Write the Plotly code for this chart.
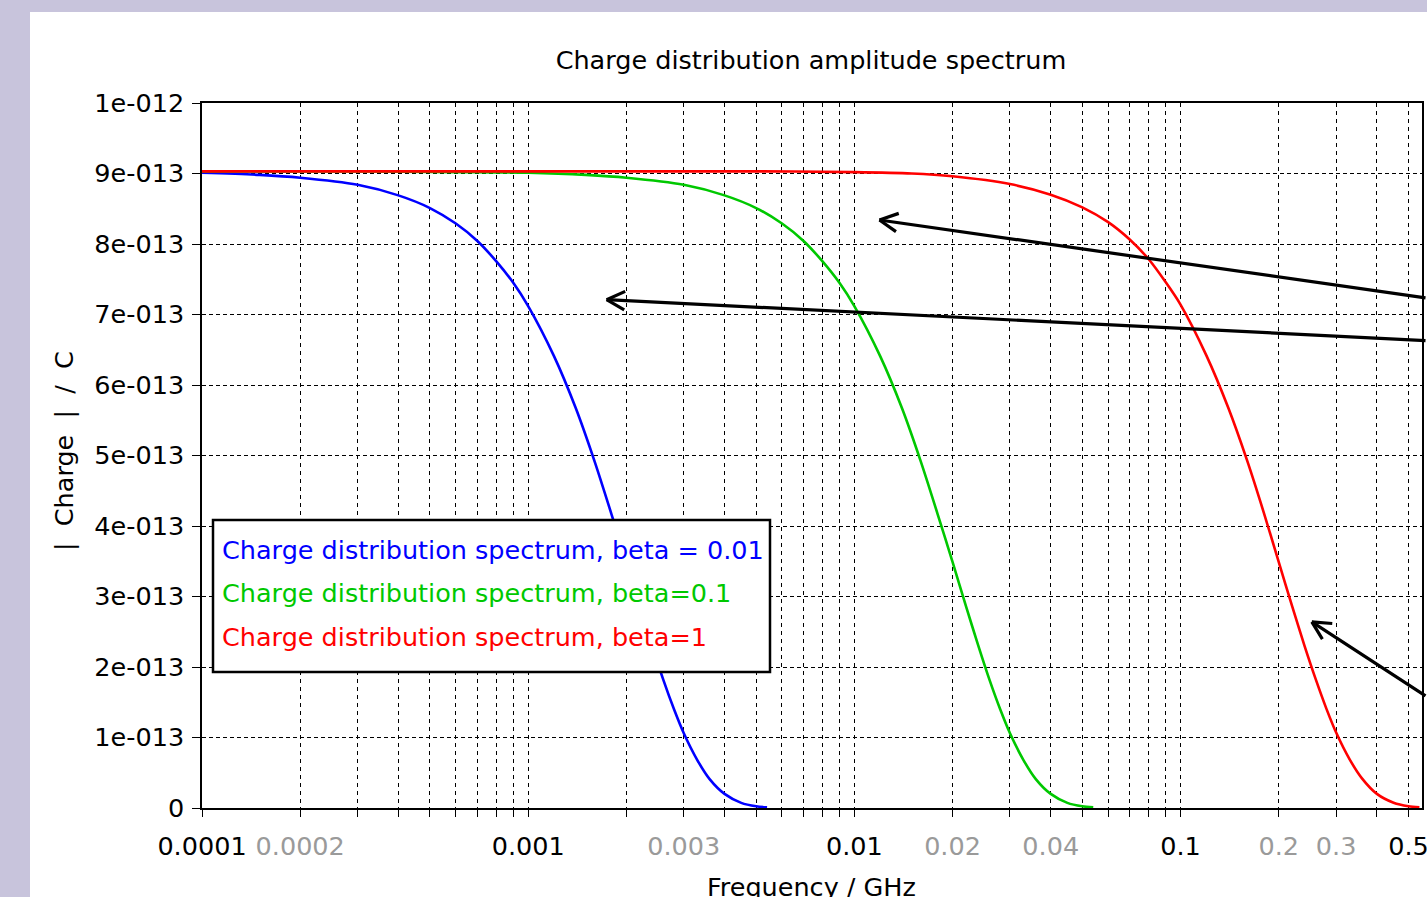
import math
import plotly.graph_objects as go

# ---------------- data ----------------
blue_freq = [0.0001, 0.00015, 0.0002, 0.0003, 0.0004, 0.0005, 0.0006, 0.0007, 0.0008,
             0.0009, 0.001, 0.0012, 0.0014, 0.0016, 0.0018, 0.002, 0.0022, 0.0024,
             0.0026, 0.0028, 0.003, 0.0033, 0.0036, 0.004, 0.0045, 0.005, 0.0054]
blue_charge = [9.01e-13, 8.98e-13, 8.94e-13, 8.84e-13, 8.69e-13, 8.51e-13, 8.29e-13, 8.04e-13,
               7.75e-13, 7.45e-13, 7.12e-13, 6.41e-13, 5.67e-13, 4.91e-13, 4.17e-13, 3.49e-13,
               2.86e-13, 2.30e-13, 1.81e-13, 1.40e-13, 1.06e-13, 0.68e-13, 0.41e-13, 0.20e-13,
               0.073e-13, 0.024e-13, 0.009e-13]

green_freq = [0.0001, 0.0003, 0.0006, 0.001, 0.0015, 0.002, 0.003, 0.004, 0.005, 0.006,
              0.007, 0.008, 0.009, 0.01, 0.012, 0.014, 0.016, 0.018, 0.02, 0.022, 0.024,
              0.026, 0.028, 0.03, 0.033, 0.036, 0.04, 0.045, 0.05, 0.054]
green_charge = [9.03e-13, 9.03e-13, 9.02e-13, 9.01e-13, 8.98e-13, 8.94e-13, 8.84e-13, 8.69e-13,
                8.51e-13, 8.29e-13, 8.04e-13, 7.75e-13, 7.45e-13, 7.12e-13, 6.41e-13, 5.67e-13,
                4.91e-13, 4.17e-13, 3.49e-13, 2.86e-13, 2.30e-13, 1.81e-13, 1.40e-13, 1.06e-13,
                0.68e-13, 0.41e-13, 0.20e-13, 0.073e-13, 0.024e-13, 0.009e-13]

red_freq = [0.0001, 0.001, 0.005, 0.01, 0.015, 0.02, 0.03, 0.04, 0.05, 0.06, 0.07, 0.08,
            0.09, 0.1, 0.12, 0.14, 0.16, 0.18, 0.2, 0.22, 0.24, 0.26, 0.28, 0.3, 0.33,
            0.36, 0.4, 0.45, 0.5, 0.54]
red_charge = [9.03e-13, 9.03e-13, 9.03e-13, 9.02e-13, 9.00e-13, 8.96e-13, 8.85e-13, 8.70e-13,
              8.52e-13, 8.31e-13, 8.06e-13, 7.78e-13, 7.46e-13, 7.14e-13, 6.42e-13, 5.68e-13,
              4.93e-13, 4.19e-13, 3.49e-13, 2.86e-13, 2.30e-13, 1.82e-13, 1.41e-13, 1.07e-13,
              0.69e-13, 0.42e-13, 0.20e-13, 0.075e-13, 0.025e-13, 0.01e-13]

series_names = ["Charge distribution spectrum, beta = 0.01",
                "Charge distribution spectrum, beta=0.1",
                "Charge distribution spectrum, beta=1"]
series_colors = ["#0000ff", "#00c800", "#ff0000"]

# x tick labels: value, text, major(black) / minor(gray)
x_label_vals = [0.0001, 0.0002, 0.001, 0.003, 0.01, 0.02, 0.04, 0.1, 0.2, 0.3, 0.5]
x_label_text = ["0.0001", "0.0002", "0.001", "0.003", "0.01", "0.02", "0.04", "0.1", "0.2", "0.3", "0.5"]
x_label_major = [True, False, True, False, True, False, False, True, False, False, True]

y_tick_vals = [0, 1e-13, 2e-13, 3e-13, 4e-13, 5e-13, 6e-13, 7e-13, 8e-13, 9e-13, 1e-12]
y_tick_text = ["0", "1e-013", "2e-013", "3e-013", "4e-013", "5e-013", "6e-013",
               "7e-013", "8e-013", "9e-013", "1e-012"]

# annotation arrows: head at (freq, charge), tail offset in px
arrow_head_freq = [0.01194, 0.00174, 0.2527]
arrow_head_charge = [8.34e-13, 7.21e-13, 2.64e-13]
arrow_tail_dx = [555, 828, 122]
arrow_tail_dy = [78, 41, 75]

X_MAX = 0.55
FONT = "DejaVu Sans"
FS = 25.5

# ---------------- layout geometry (pixels) ----------------
W, H = 1427, 897
L, R, T, B = 202, 5, 103, 89
PW, PH = W - L - R, H - T - B


def px2paper_x(px):
    return (px - L) / PW


def px2paper_y(py):
    return (H - B - py) / PH


fig = go.Figure()
for fx, cy, col, name in [(blue_freq, blue_charge, series_colors[0], series_names[0]),
                          (green_freq, green_charge, series_colors[1], series_names[1]),
                          (red_freq, red_charge, series_colors[2], series_names[2])]:
    fig.add_trace(go.Scatter(x=fx, y=cy, mode="lines", name=name,
                             line=dict(color=col, width=2.6, shape="spline", smoothing=0.8),
                             showlegend=False))

# x tick positions: every 1..9 x 10^e
tickvals, ticktext = [], []
for e in range(-4, 0):
    for k in range(1, 10):
        v = k * 10 ** e
        if v > X_MAX + 1e-12:
            continue
        tickvals.append(v)
        txt = ""
        for lv, lt, lm in zip(x_label_vals, x_label_text, x_label_major):
            if abs(lv - v) < 1e-12:
                txt = lt if lm else "<span style='color:#9a9a9a'>%s</span>" % lt
        ticktext.append(txt)

axis_common = dict(showline=True, linecolor="black", linewidth=1.5, mirror=True,
                   showgrid=True, gridcolor="black", gridwidth=1,
                   ticks="outside", tickcolor="black", tickwidth=1.3,
                   tickfont=dict(family=FONT, size=FS, color="black"), zeroline=False,
                   ticklabeloverflow="allow")

fig.update_xaxes(type="log", range=[-4, math.log10(X_MAX)], tickvals=tickvals, ticktext=ticktext,
                 griddash="4px,4px", ticklen=7, ticklabelstandoff=8, **axis_common)
fig.update_yaxes(range=[0, 1e-12], tickvals=y_tick_vals, ticktext=y_tick_text,
                 griddash="4px,3px", ticklen=8, ticklabelstandoff=3, **axis_common)

shapes = [
    # white panel over lavender background
    dict(type="rect", xref="paper", yref="paper", x0=px2paper_x(30), x1=px2paper_x(W + 20),
         y0=px2paper_y(H + 20), y1=px2paper_y(12), fillcolor="white", line=dict(width=0),
         layer="below"),
    # legend box
    dict(type="rect", xref="paper", yref="paper", x0=px2paper_x(213), x1=px2paper_x(770),
         y0=px2paper_y(672), y1=px2paper_y(520), fillcolor="white",
         line=dict(color="black", width=2.5), layer="above"),
]

annotations = []
legend_y_px = [550, 593, 637]
for name, col, ypx in zip(series_names, series_colors, legend_y_px):
    annotations.append(dict(xref="paper", yref="paper", x=px2paper_x(220), y=px2paper_y(ypx),
                            xanchor="left", yanchor="middle", showarrow=False, text=name,
                            font=dict(family=FONT, size=FS, color=col)))

# axis titles
annotations.append(dict(xref="paper", yref="paper", x=px2paper_x(811), y=px2paper_y(887),
                        xanchor="center", yanchor="middle", showarrow=False,
                        text="Frequency / GHz", font=dict(family=FONT, size=FS, color="black")))
annotations.append(dict(xref="paper", yref="paper", x=px2paper_x(64), y=px2paper_y(451),
                        xanchor="center", yanchor="middle", showarrow=False, textangle=-90,
                        text="|  Charge  |  /  C", font=dict(family=FONT, size=FS, color="black")))

# arrows with open heads
ARM_LEN, ARM_ANG = 22, math.radians(27)
for f, c, dx, dy in zip(arrow_head_freq, arrow_head_charge, arrow_tail_dx, arrow_tail_dy):
    xl = math.log10(f)
    annotations.append(dict(x=xl, y=c, xref="x", yref="y", ax=dx, ay=dy, text="",
                            showarrow=True, arrowhead=0, arrowwidth=3.2, arrowcolor="black",
                            standoff=0, startstandoff=0))
    n = math.hypot(dx, dy)
    ux, uy = dx / n, dy / n
    for s in (1, -1):
        ca, sa = math.cos(s * ARM_ANG), math.sin(s * ARM_ANG)
        rx, ry = ux * ca - uy * sa, ux * sa + uy * ca
        annotations.append(dict(x=xl, y=c, xref="x", yref="y", ax=rx * ARM_LEN, ay=ry * ARM_LEN,
                                text="", showarrow=True, arrowhead=0, arrowwidth=3.2,
                                arrowcolor="black", standoff=0, startstandoff=0))

fig.update_layout(
    width=W, height=H, margin=dict(l=L, r=R, t=T, b=B, autoexpand=False),
    paper_bgcolor="#c8c4dc", plot_bgcolor="white",
    title=dict(text="Charge distribution amplitude spectrum", x=px2paper_x(811), xref="paper",
               xanchor="center", y=1 - 60 / H, yanchor="middle",
               font=dict(family=FONT, size=FS, color="black")),
    shapes=shapes, annotations=annotations, showlegend=False,
)

fig.write_html("out.html", config={"displayModeBar": False},
               post_script="document.body.style.margin='0';document.body.style.overflow='hidden';")
